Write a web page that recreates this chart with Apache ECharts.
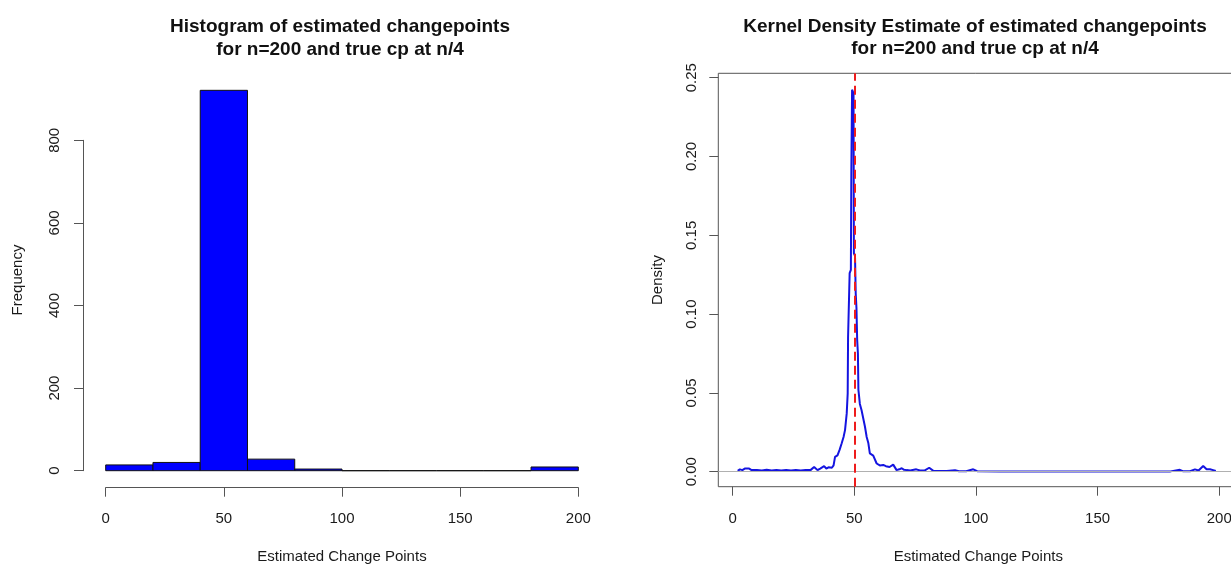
<!DOCTYPE html>
<html>
<head>
<meta charset="utf-8">
<script src="https://cdn.jsdelivr.net/npm/echarts@6/dist/echarts.min.js"></script>
<style>
html,body{margin:0;padding:0;background:#fff;}
#chart{width:1231px;height:564px;}
</style>
</head>
<body>
<div id="chart"></div>
<script>
// ---- data ----
const binEdges = [0, 20, 40, 60, 80, 100, 120, 140, 160, 180, 200];
const binCounts = [14, 20, 921, 28, 4, 0, 0, 0, 0, 9];
const histXTicks = [0, 50, 100, 150, 200];
const histYTicks = [0, 200, 400, 600, 800];

const densityX = [2.1, 3.0, 4.0, 5.0, 5.8, 6.8, 7.8, 10, 12, 14, 16, 18, 20, 22, 24, 26, 28, 30, 32, 33.5, 34.9, 36, 37.6, 38.5, 39.4, 40.8, 41.5, 42.1, 43.1, 44.0, 44.8, 45.6, 46.2, 46.9, 47.3, 47.45, 47.9, 48.1, 48.6, 48.8, 49.1, 49.4, 49.7, 49.85, 50.3, 50.6, 50.9, 51.2, 51.5, 51.7, 52.3, 53.0, 54.4, 55.1, 55.8, 56.4, 57.8, 59.2, 60.5, 61.9, 63, 64.5, 66, 67.4, 68.5, 69.5, 70.5, 71.5, 73, 75.5, 77, 79, 80.8, 82.5, 85, 88, 91.4, 93, 96, 98.9, 100.5, 110, 120, 130, 140, 150, 160, 170, 180, 183.8, 185, 188, 190, 191.5, 193.4, 194.8, 196.2, 197.5, 198.6];
const densityY = [0.0005, 0.0015, 0.001, 0.002, 0.003, 0.002, 0.001, 0.001, 0.0008, 0.0012, 0.0008, 0.001, 0.0008, 0.001, 0.0008, 0.001, 0.0008, 0.001, 0.001, 0.003, 0.001, 0.002, 0.0035, 0.002, 0.0028, 0.0025, 0.004, 0.0094, 0.0104, 0.014, 0.0179, 0.022, 0.0264, 0.037, 0.0497, 0.085, 0.0857, 0.126, 0.128, 0.1915, 0.2424, 0.2434, 0.24, 0.1386, 0.137, 0.113, 0.104, 0.0835, 0.075, 0.052, 0.043, 0.039, 0.0285, 0.022, 0.018, 0.0116, 0.0102, 0.0052, 0.004, 0.0043, 0.0035, 0.003, 0.0045, 0.001, 0.0015, 0.0022, 0.0012, 0.001, 0.0008, 0.0015, 0.0008, 0.0008, 0.0025, 0.0005, 0.0004, 0.0004, 0.001, 0.0003, 0.0003, 0.0015, 0.0003, 0.0002, 0.0002, 0.0002, 0.0002, 0.0002, 0.0002, 0.0002, 0.0002, 0.0012, 0.0003, 0.0003, 0.0015, 0.0008, 0.0036, 0.0015, 0.0015, 0.001, 0.0005];
const densityXTicks = [0, 50, 100, 150, 200];
const densityYTicks = [0, 0.05, 0.10, 0.15, 0.20, 0.25];
const trueCp = 50;

const titleLeft = 'Histogram of estimated changepoints\nfor n=200 and true cp at n/4';
const titleRight = 'Kernel Density Estimate of estimated changepoints\nfor n=200 and true cp at n/4';
const xName = 'Estimated Change Points';

// ---- build ----
const histData = binCounts.map((c, i) => [binEdges[i], binEdges[i + 1], c]);
const densData = densityX.map((x, i) => [x, densityY[i]]);

const FONT = "'Liberation Sans', Arial, sans-serif";
const AX = '#555';
const TXT = '#1a1a1a';

const chart = echarts.init(document.getElementById('chart'), null, {renderer: 'canvas'});
chart.setOption({
  backgroundColor: '#ffffff',
  animation: false,
  textStyle: {fontFamily: FONT},
  grid: [
    {left: 105.7, top: 140.3, width: 472.6, height: 330.4, outerBoundsMode: 'none', containLabel: false},
    {left: 718.3, top: 73.3, width: 520, height: 413.4, outerBoundsMode: 'none', containLabel: false,
      show: true, borderColor: AX, borderWidth: 1, backgroundColor: 'transparent'}
  ],
  xAxis: [
    {
      gridIndex: 0, type: 'value', min: 0, max: 200, interval: 50, offset: 17,
      axisLine: {show: true, onZero: false, lineStyle: {color: AX, width: 1}},
      axisTick: {show: true, length: 9, lineStyle: {color: AX}},
      axisLabel: {margin: 23, fontSize: 15, color: TXT, fontFamily: FONT, lineHeight: 16},
      splitLine: {show: false},
      name: xName, nameLocation: 'middle', nameGap: 62,
      nameTextStyle: {fontSize: 15, color: TXT, fontFamily: FONT}
    },
    {
      gridIndex: 1, type: 'value', min: -5.88, max: 207.83,
      axisLine: {show: false, onZero: false},
      axisTick: {show: true, length: 9, lineStyle: {color: AX}, customValues: densityXTicks},
      axisLabel: {margin: 24, fontSize: 15, color: TXT, fontFamily: FONT, lineHeight: 16, customValues: densityXTicks},
      splitLine: {show: false},
      name: xName, nameLocation: 'middle', nameGap: 63,
      nameTextStyle: {fontSize: 15, color: TXT, fontFamily: FONT}
    }
  ],
  yAxis: [
    {
      gridIndex: 0, type: 'value', min: 0, max: 800, interval: 200, offset: 22.7,
      axisLine: {show: true, onZero: false, lineStyle: {color: AX, width: 1}},
      axisTick: {show: true, length: 9, lineStyle: {color: AX}},
      axisLabel: {rotate: 90, margin: 20, fontSize: 15, color: TXT, fontFamily: FONT, lineHeight: 16},
      splitLine: {show: false}
    },
    {
      gridIndex: 1, type: 'value', min: -0.00952, max: 0.2528,
      axisLine: {show: false, onZero: false},
      axisTick: {show: true, length: 9, lineStyle: {color: AX}, customValues: densityYTicks},
      axisLabel: {rotate: 90, margin: 18, fontSize: 15, color: TXT, fontFamily: FONT, lineHeight: 16,
        customValues: densityYTicks, formatter: v => v.toFixed(2)},
      splitLine: {show: false}
    }
  ],
  series: [
    {
      type: 'custom', xAxisIndex: 0, yAxisIndex: 0, clip: false,
      encode: {x: [0, 1], y: 2},
      data: histData,
      renderItem: function (params, api) {
        const p0 = api.coord([api.value(0), 0]);
        const p1 = api.coord([api.value(1), api.value(2)]);
        return {
          type: 'rect',
          shape: {x: p0[0], y: p1[1], width: p1[0] - p0[0], height: p0[1] - p1[1]},
          style: {fill: '#0000ff', stroke: '#111', lineWidth: 1}
        };
      }
    },
    {
      type: 'line', xAxisIndex: 1, yAxisIndex: 1, data: [], z: 1,
      markLine: {
        silent: true, symbol: 'none', label: {show: false},
        data: [
          {yAxis: 0, lineStyle: {color: '#b0b0b0', width: 1, type: 'solid'}}
        ]
      }
    },
    {
      type: 'line', xAxisIndex: 1, yAxisIndex: 1,
      data: densData, showSymbol: false, symbol: 'none', smooth: false,
      lineStyle: {color: '#1414e0', width: 2},
      z: 3
    },
    {
      type: 'line', xAxisIndex: 1, yAxisIndex: 1, data: [], z: 4,
      markLine: {
        silent: true, symbol: 'none', label: {show: false},
        data: [
          {xAxis: trueCp, lineStyle: {color: '#ee1c1c', width: 2, type: [9, 5]}}
        ]
      }
    }
  ],
  graphic: [
    {type: 'text', x: 340, y: 38.5, style: {text: titleLeft, font: 'bold 19px ' + FONT, fill: '#111', align: 'center', verticalAlign: 'middle', lineHeight: 22.5}},
    {type: 'text', x: 975, y: 38, style: {text: titleRight, font: 'bold 19px ' + FONT, fill: '#111', align: 'center', verticalAlign: 'middle', lineHeight: 22}},
    {type: 'text', x: 18, y: 280, rotation: Math.PI / 2, style: {text: 'Frequency', font: '15px ' + FONT, fill: TXT, align: 'center', verticalAlign: 'middle'}},
    {type: 'text', x: 658, y: 280, rotation: Math.PI / 2, style: {text: 'Density', font: '15px ' + FONT, fill: TXT, align: 'center', verticalAlign: 'middle'}}
  ]
});
</script>
</body>
</html>
